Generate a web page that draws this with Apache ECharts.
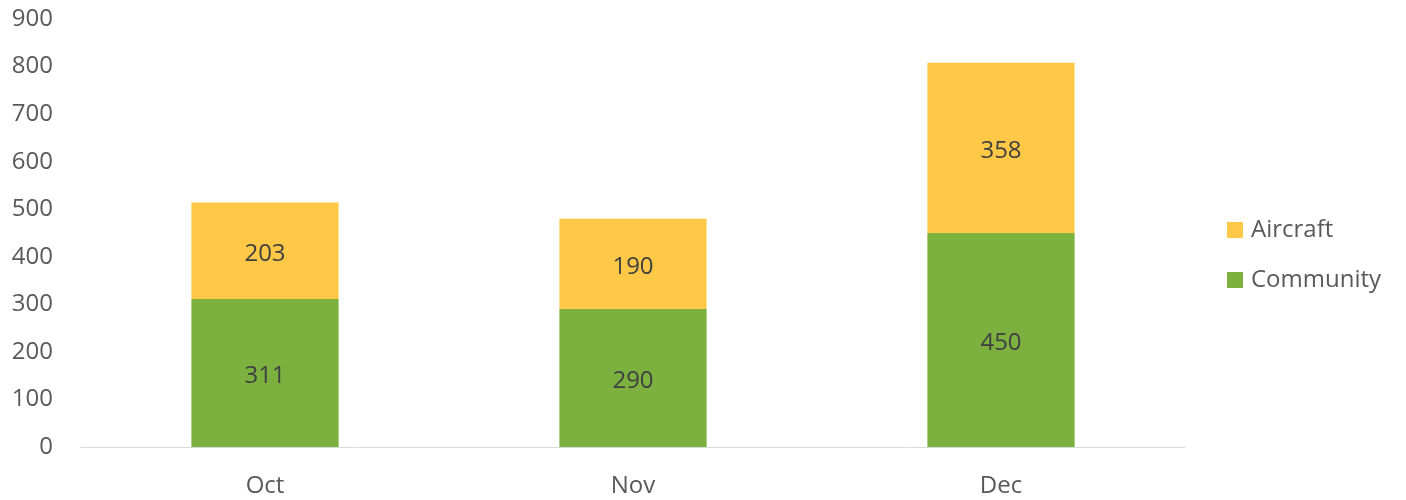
<!DOCTYPE html>
<html>
<head>
<meta charset="utf-8">
<script src="https://cdn.jsdelivr.net/npm/echarts@6/dist/echarts.min.js"></script>
<style>
html,body{margin:0;padding:0;background:#fff;}
#chart{width:1406px;height:500px;}
</style>
</head>
<body>
<div id="chart"></div>
<script>
const categories = ['Oct', 'Nov', 'Dec'];
const community = [311, 290, 450];
const aircraft = [203, 190, 358];
const yTicks = [0, 100, 200, 300, 400, 500, 600, 700, 800, 900];

const FONT = 'Open Sans';
const chart = echarts.init(document.getElementById('chart'));
chart.setOption({
  animation: false,
  textStyle: { fontFamily: FONT },
  grid: { left: 81, right: 221, top: 19, bottom: 53, containLabel: false },
  legend: {
    orient: 'vertical',
    left: 1227,
    top: 218,
    padding: 0,
    itemWidth: 16,
    itemHeight: 16,
    itemGap: 26,
    data: ['Aircraft', 'Community'],
    icon: 'rect',
    textStyle: { fontFamily: FONT, fontSize: 24, color: '#595959', padding: [0, 0, 0, 3] }
  },
  xAxis: {
    type: 'category',
    data: categories,
    axisLine: { lineStyle: { color: '#d9d9d9', width: 1 } },
    axisTick: { show: false },
    axisLabel: { fontFamily: FONT, fontSize: 24, color: '#595959', margin: 27 }
  },
  yAxis: {
    type: 'value',
    min: yTicks[0],
    max: yTicks[yTicks.length - 1],
    interval: 100,
    splitLine: { show: false },
    axisLine: { show: false },
    axisTick: { show: false },
    axisLabel: { fontFamily: FONT, fontSize: 24, color: '#595959', margin: 28 }
  },
  series: [
    {
      name: 'Community',
      type: 'bar',
      stack: 'total',
      data: community,
      barWidth: '40%',
      itemStyle: { color: '#7CB03F' },
      label: { show: true, position: 'inside', offset: [0, 3], fontFamily: FONT, fontSize: 24, color: '#404040' }
    },
    {
      name: 'Aircraft',
      type: 'bar',
      stack: 'total',
      data: aircraft,
      barWidth: '40%',
      itemStyle: { color: '#FFC846' },
      label: { show: true, position: 'inside', offset: [0, 3], fontFamily: FONT, fontSize: 24, color: '#404040' }
    }
  ]
});
</script>
</body>
</html>
